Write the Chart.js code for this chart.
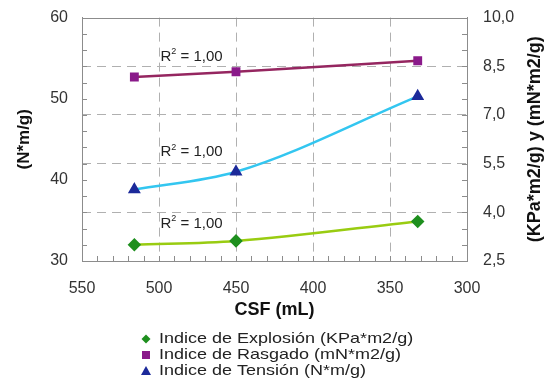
<!DOCTYPE html>
<html>
<head>
<meta charset="utf-8">
<script src="https://cdn.jsdelivr.net/npm/chart.js@4.4.1/dist/chart.umd.min.js"></script>
<style>
  html, body { margin: 0; padding: 0; background: #fff; }
</style>
</head>
<body>
<canvas id="chart" width="553" height="388"></canvas>
<script>
// values
const csf = [516, 450, 332];
const explosion = [3.0, 3.12, 3.72];
const rasgado = [8.17, 8.33, 8.67];
const tension = [38.8, 41.0, 50.3];
const seriesNames = [
  'Indice de Explosión (KPa*m2/g)',
  'Indice de Rasgado (mN*m2/g)',
  'Indice de Tensión (N*m/g)'
];
const r2Text = ['R', '2', ' = 1,00'];
const r2Anchors = [55.2, 43.4, 34.6]; // left-axis values where the R² notes sit

const toPoints = (ys) => ys.map((y, i) => ({ x: csf[i], y: y }));
const comma = (v) => v.toFixed(1).replace('.', ',');

Chart.defaults.font.family = '"Liberation Sans", Arial, sans-serif';
Chart.defaults.color = '#333';

const gridGray = '#b0b0b0';
const axisGray = '#8c8c8c';
const clear = 'rgba(0,0,0,0)';

const extras = {
  id: 'extras',
  afterDatasetsDraw(chart) {
    const { ctx, scales } = chart;
    ctx.save();
    ctx.fillStyle = '#222';
    ctx.textBaseline = 'middle';
    r2Anchors.forEach((v) => {
      let x = scales.x.getPixelForValue(499);
      const y = scales.y.getPixelForValue(v);
      ctx.font = '15px "Liberation Sans", Arial';
      ctx.textAlign = 'left';
      ctx.fillText(r2Text[0], x, y);
      x += ctx.measureText(r2Text[0]).width;
      ctx.font = '9px "Liberation Sans", Arial';
      ctx.fillText(r2Text[1], x, y - 5);
      x += ctx.measureText(r2Text[1]).width;
      ctx.font = '15px "Liberation Sans", Arial';
      ctx.fillText(r2Text[2], x, y);
    });
    ctx.restore();
  },
  afterDraw(chart) {
    const { ctx, chartArea, scales } = chart;
    const { left, right, top, bottom } = chartArea;
    ctx.save();
    ctx.strokeStyle = axisGray;
    ctx.lineWidth = 1;
    ctx.beginPath();
    ctx.moveTo(left, Math.round(top) + 0.5); ctx.lineTo(right, Math.round(top) + 0.5);
    for (let v = 30; v <= 60; v += 2) {
      const y = Math.round(scales.y.getPixelForValue(v)) + 0.5;
      ctx.moveTo(left, y); ctx.lineTo(left + 5, y);
    }
    for (let v = 2.5; v <= 10.001; v += 0.5) {
      const y = Math.round(scales.y2.getPixelForValue(v)) + 0.5;
      ctx.moveTo(right, y); ctx.lineTo(right - 5, y);
    }
    for (let v = 300; v <= 550; v += 10) {
      const x = Math.round(scales.x.getPixelForValue(v)) + 0.5;
      ctx.moveTo(x, bottom); ctx.lineTo(x, bottom - 5);
    }
    ctx.stroke();

    // right axis title, read bottom to top
    ctx.translate(535, (top + bottom) / 2);
    ctx.rotate(-Math.PI / 2);
    ctx.font = 'bold 18px "Liberation Sans", Arial';
    ctx.fillStyle = '#111';
    ctx.textAlign = 'center';
    ctx.textBaseline = 'middle';
    ctx.fillText('(KPa*m2/g) y (mN*m2/g)', 0, 0);
    ctx.restore();

    // legend, one entry per row
    ctx.save();
    ctx.textBaseline = 'middle';
    ctx.textAlign = 'left';
    chart.data.datasets.forEach((ds, i) => {
      const y = 339 + i * 16;
      const x = 146;
      ctx.fillStyle = ds.pointBackgroundColor;
      ctx.beginPath();
      if (ds.pointStyle === 'rectRot') {
        ctx.moveTo(x, y - 4.5); ctx.lineTo(x + 4.5, y); ctx.lineTo(x, y + 4.5); ctx.lineTo(x - 4.5, y);
      } else if (ds.pointStyle === 'rect') {
        ctx.rect(x - 4, y - 4, 8, 8);
      } else {
        ctx.moveTo(x, y - 5); ctx.lineTo(x + 5, y + 4); ctx.lineTo(x - 5, y + 4);
      }
      ctx.closePath();
      ctx.fill();
      ctx.save();
      ctx.translate(x + 13, y);
      ctx.scale(1.2, 1);
      ctx.font = '15px "Liberation Sans", Arial';
      ctx.fillStyle = '#222';
      ctx.fillText(seriesNames[i], 0, 0);
      ctx.restore();
    });
    ctx.restore();
  }
};

new Chart(document.getElementById('chart').getContext('2d'), {
  type: 'scatter',
  data: {
    datasets: [
      {
        label: seriesNames[0],
        data: toPoints(explosion),
        yAxisID: 'y2',
        showLine: true,
        cubicInterpolationMode: 'monotone',
        borderColor: '#99cc11',
        borderWidth: 2.5,
        pointStyle: 'rectRot',
        pointRadius: 5,
        pointBackgroundColor: '#1e8f1e',
        pointBorderColor: '#1e8f1e'
      },
      {
        label: seriesNames[1],
        data: toPoints(rasgado),
        yAxisID: 'y2',
        showLine: true,
        cubicInterpolationMode: 'monotone',
        borderColor: '#952660',
        borderWidth: 2.5,
        pointStyle: 'rect',
        pointRadius: 4.5,
        pointBackgroundColor: '#8a1a8a',
        pointBorderColor: '#8a1a8a'
      },
      {
        label: seriesNames[2],
        data: toPoints(tension),
        yAxisID: 'y',
        showLine: true,
        cubicInterpolationMode: 'monotone',
        borderColor: '#33c6f0',
        borderWidth: 2.5,
        pointStyle: 'triangle',
        pointRadius: 5,
        pointBackgroundColor: '#1c2a9a',
        pointBorderColor: '#1c2a9a'
      }
    ]
  },
  options: {
    responsive: false,
    animation: false,
    devicePixelRatio: 1,
    layout: { padding: { top: 8, bottom: 67, left: 0, right: 0 } },
    plugins: {
      legend: { display: false },
      tooltip: { enabled: false }
    },
    scales: {
      x: {
        type: 'linear',
        reverse: true,
        min: 300,
        max: 550,
        afterFit: (s) => { s.height = 60; },
        ticks: { stepSize: 50, padding: 18, font: { size: 16 }, color: '#333' },
        grid: {
          drawTicks: false,
          color: (c) => (c.tick && (c.tick.value === 300 || c.tick.value === 550)) ? clear : gridGray
        },
        border: { color: axisGray, width: 1, dash: [9, 6] },
        title: { display: true, text: 'CSF (mL)', font: { size: 18, weight: 'bold' }, color: '#111', padding: { top: 0, bottom: 0 } }
      },
      y: {
        position: 'left',
        min: 30,
        max: 60,
        afterFit: (s) => { s.width = 82; },
        ticks: { stepSize: 10, padding: 8, font: { size: 16 }, color: '#333' },
        grid: { color: clear, tickColor: clear, drawTicks: true, tickLength: 6 },
        border: { color: axisGray, width: 1 },
        title: { display: true, text: '(N*m/g)', font: { size: 17, weight: 'bold' }, color: '#111', padding: { top: 14, bottom: 0 } }
      },
      y2: {
        position: 'right',
        min: 2.5,
        max: 10,
        afterFit: (s) => { s.width = 86; },
        ticks: { stepSize: 1.5, padding: 8, font: { size: 16 }, color: '#333', callback: (v) => comma(v) },
        grid: {
          drawTicks: true,
          tickLength: 8,
          tickColor: clear,
          color: (c) => (c.tick && (c.tick.value === 2.5 || c.tick.value === 10)) ? clear : gridGray
        },
        border: { color: axisGray, width: 1, dash: [9, 6] }
      }
    }
  },
  plugins: [extras]
});
</script>
</body>
</html>
